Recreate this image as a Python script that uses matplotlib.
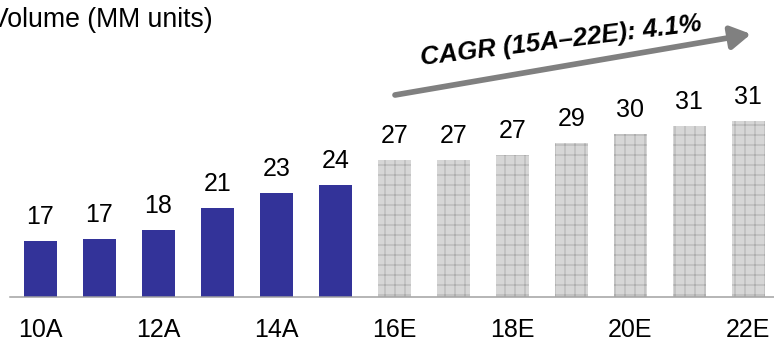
import matplotlib
matplotlib.use("Agg")
import matplotlib.pyplot as plt

# Unit volume by year (MM units); A = actual, E = estimate
years = ["10A", "11A", "12A", "13A", "14A", "15A",
         "16E", "17E", "18E", "19E", "20E", "21E", "22E"]
volume = [17.1, 17.4, 18.4, 21.0, 22.8, 23.7,
          26.7, 26.7, 27.3, 28.6, 29.7, 30.6, 31.2]
is_estimate = [y.endswith("E") for y in years]
tick_years = years[::2]
cagr_label = "CAGR (15A\u201322E): 4.1%"

W, H, DPI = 774, 342, 120
plt.rcParams["font.family"] = ["Liberation Sans", "DejaVu Sans"]
plt.rcParams["hatch.linewidth"] = 0.55

fig = plt.figure(figsize=(W / DPI, H / DPI), dpi=DPI)

def fx(px):
    return px / W

def fy(py):
    return 1 - py / H

ax = fig.add_axes([fx(10), fy(297.3), fx(774 - 10), 297.3 / H])

x = list(range(len(years)))
actual_x = [i for i in x if not is_estimate[i]]
actual_v = [volume[i] for i in actual_x]
est_x = [i for i in x if is_estimate[i]]
est_v = [volume[i] for i in est_x]

ybase = 10.5
ax.bar(actual_x, [v - ybase for v in actual_v], bottom=ybase, width=0.554,
       color="#333399", linewidth=0)
ax.bar(est_x, [v - ybase for v in est_v], bottom=ybase, width=0.554,
       color="#d6d6d6", edgecolor="#ababab", hatch="++", linewidth=0)

for xi, v in zip(x, volume):
    ax.annotate(f"{v:.0f}", xy=(xi, v), xytext=(0, 10.2),
                textcoords="offset points", ha="center", va="baseline",
                fontsize=15, color="#000000")

ax.set_xlim(-0.514, 12.436)
ax.set_ylim(ybase, ybase + 297.3 / 8.5)

ax.set_xticks(x[::2])
ax.set_xticklabels(tick_years, fontsize=15)
ax.tick_params(axis="x", length=0, pad=12.2)
ax.set_yticks([])
for side in ("left", "right", "top"):
    ax.spines[side].set_visible(False)
ax.spines["bottom"].set_color("#a0a0a0")
ax.spines["bottom"].set_linewidth(0.9)
ax.patch.set_visible(False)

fig.text(fx(-9), fy(27.3), "Volume (MM units)", fontsize=16,
         ha="left", va="baseline")

# Growth arrow with CAGR annotation
fig.add_artist(matplotlib.patches.FancyArrowPatch(
    (fx(395), fy(95)), (fx(751), fy(34)), transform=fig.transFigure,
    arrowstyle="-|>,head_length=0.55,head_width=0.32", mutation_scale=18,
    color="#808080", linewidth=3.4, shrinkA=0, shrinkB=0))
fig.text(fx(562), fy(47.5), cagr_label, fontsize=15.5, fontweight="bold",
         fontstyle="italic", rotation=7, rotation_mode="anchor",
         ha="center", va="baseline")

fig.savefig("out.png", dpi=DPI)
